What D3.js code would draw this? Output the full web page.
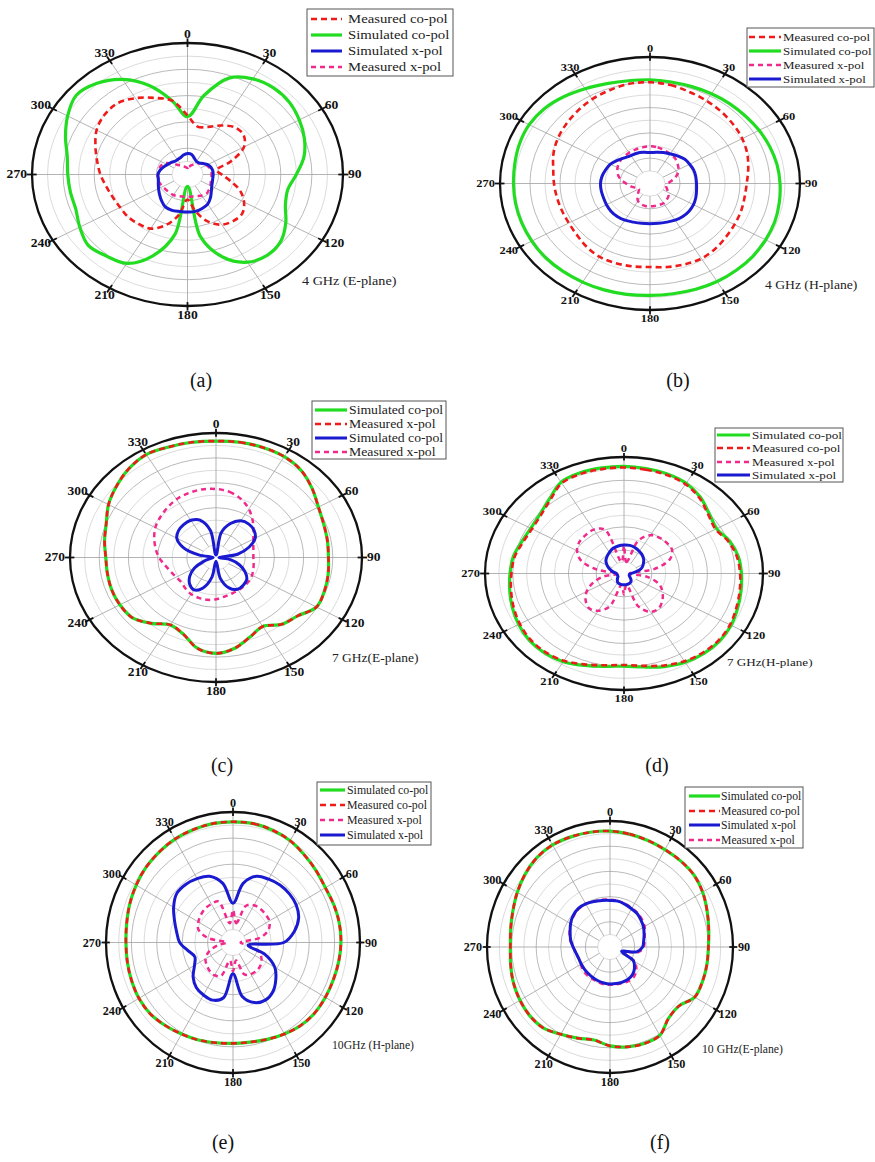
<!DOCTYPE html>
<html>
<head>
<meta charset="utf-8">
<script src="https://cdn.jsdelivr.net/npm/d3@7"></script>
<style>
  body { margin: 0; background: #fff; }
  svg { display: block; }
</style>
</head>
<body>
<svg id="fig" width="875" height="1162"></svg>
<script>
// ---- Data: normalized radius (0 = centre, 1 = outer ring), one value per angle
const angles = [0, 10, 20, 30, 40, 50, 60, 70, 80, 90, 100, 110, 120, 130, 140, 150, 160, 170,
                180, 190, 200, 210, 220, 230, 240, 250, 260, 270, 280, 290, 300, 310, 320, 330, 340, 350];
const tickAngles = [0, 30, 60, 90, 120, 150, 180, 210, 240, 270, 300, 330];
const ringLevels = [0.1, 0.2, 0.3, 0.4, 0.5, 0.6, 0.7, 0.8, 0.9];

// (a) 4 GHz E-plane
const simCoA  = [0.44,0.61,0.78,0.84,0.86,0.855,0.83,0.80,0.76,0.70,0.655,0.67,0.73,0.785,0.80,0.77,0.67,0.48,0.09,0.46,0.66,0.78,0.81,0.835,0.80,0.765,0.765,0.77,0.785,0.835,0.89,0.935,0.905,0.835,0.72,0.57];
const measCoA = [0.45,0.37,0.385,0.43,0.47,0.47,0.42,0.30,0.19,0.22,0.28,0.36,0.42,0.46,0.46,0.44,0.38,0.28,0.19,0.31,0.41,0.475,0.49,0.50,0.50,0.51,0.53,0.56,0.59,0.63,0.675,0.70,0.705,0.67,0.62,0.57];
const simXA   = [0.16,0.155,0.13,0.115,0.115,0.13,0.15,0.16,0.165,0.165,0.165,0.17,0.18,0.20,0.23,0.26,0.275,0.285,0.285,0.285,0.29,0.285,0.26,0.235,0.215,0.20,0.19,0.19,0.18,0.165,0.15,0.14,0.13,0.13,0.135,0.15];
const measXA  = [0.05,0.06,0.075,0.09,0.11,0.13,0.14,0.15,0.155,0.155,0.155,0.16,0.17,0.18,0.19,0.185,0.175,0.17,0.17,0.17,0.175,0.18,0.18,0.18,0.185,0.19,0.195,0.19,0.185,0.185,0.17,0.13,0.095,0.08,0.065,0.055];

// (b) 4 GHz H-plane
const simCoB  = [0.82,0.815,0.815,0.82,0.825,0.83,0.84,0.85,0.86,0.867,0.875,0.885,0.89,0.895,0.895,0.895,0.89,0.885,0.885,0.89,0.895,0.90,0.905,0.91,0.91,0.91,0.91,0.91,0.915,0.925,0.93,0.92,0.895,0.865,0.84,0.825];
const measCoB = [0.80,0.79,0.77,0.755,0.74,0.725,0.71,0.69,0.665,0.645,0.64,0.645,0.65,0.66,0.675,0.685,0.68,0.67,0.66,0.665,0.67,0.67,0.655,0.635,0.625,0.625,0.63,0.64,0.655,0.685,0.71,0.73,0.75,0.77,0.785,0.80];
const measXB  = [0.295,0.29,0.28,0.27,0.26,0.24,0.22,0.19,0.15,0.12,0.11,0.12,0.14,0.16,0.17,0.18,0.18,0.18,0.18,0.18,0.175,0.16,0.13,0.10,0.085,0.10,0.13,0.16,0.20,0.23,0.25,0.265,0.275,0.28,0.285,0.29];
const simXB   = [0.245,0.25,0.26,0.27,0.285,0.30,0.305,0.31,0.31,0.31,0.315,0.325,0.335,0.34,0.34,0.335,0.325,0.32,0.318,0.32,0.325,0.335,0.34,0.34,0.335,0.33,0.33,0.33,0.325,0.315,0.305,0.285,0.265,0.255,0.255,0.25];

// (c) 7 GHz E-plane
const simCoC  = [0.935,0.94,0.94,0.935,0.91,0.86,0.81,0.785,0.775,0.77,0.78,0.79,0.795,0.73,0.70,0.64,0.68,0.74,0.77,0.74,0.655,0.625,0.69,0.75,0.76,0.76,0.755,0.755,0.775,0.80,0.85,0.89,0.93,0.955,0.945,0.94];
const measCoC = [0.935,0.94,0.94,0.935,0.91,0.86,0.81,0.785,0.775,0.77,0.78,0.79,0.795,0.73,0.70,0.64,0.68,0.74,0.77,0.74,0.655,0.625,0.69,0.75,0.76,0.76,0.755,0.755,0.775,0.80,0.85,0.89,0.93,0.955,0.945,0.94];
const simXC   = [0.02,0.20,0.29,0.34,0.35,0.34,0.31,0.24,0.15,0.02,0.10,0.17,0.23,0.275,0.29,0.295,0.26,0.17,0.03,0.16,0.26,0.30,0.28,0.235,0.17,0.09,0.03,0.02,0.12,0.24,0.31,0.335,0.345,0.345,0.32,0.22];
const measXC  = [0.55,0.535,0.50,0.45,0.39,0.335,0.295,0.272,0.26,0.256,0.262,0.272,0.285,0.295,0.30,0.305,0.31,0.32,0.335,0.345,0.345,0.34,0.325,0.31,0.315,0.33,0.355,0.39,0.42,0.45,0.48,0.50,0.52,0.54,0.55,0.555];

// (d) 7 GHz H-plane
const simCoD  = [0.92,0.915,0.91,0.895,0.855,0.80,0.77,0.81,0.835,0.845,0.855,0.87,0.89,0.90,0.895,0.88,0.85,0.815,0.795,0.81,0.84,0.875,0.89,0.89,0.875,0.855,0.835,0.82,0.81,0.785,0.775,0.79,0.835,0.905,0.92,0.92];
const measCoD = [0.91,0.905,0.90,0.885,0.845,0.79,0.76,0.80,0.825,0.835,0.845,0.86,0.88,0.89,0.885,0.87,0.84,0.805,0.785,0.80,0.83,0.865,0.88,0.88,0.865,0.845,0.825,0.81,0.80,0.775,0.765,0.78,0.825,0.895,0.91,0.91];
const measXD  = [0.24,0.10,0.30,0.38,0.40,0.405,0.40,0.35,0.22,0.04,0.17,0.27,0.32,0.36,0.39,0.38,0.30,0.10,0.18,0.10,0.30,0.37,0.39,0.36,0.31,0.24,0.15,0.04,0.20,0.33,0.39,0.42,0.43,0.435,0.40,0.10];
const simXD   = [0.245,0.245,0.235,0.22,0.205,0.185,0.16,0.135,0.09,0.05,0.04,0.04,0.045,0.06,0.08,0.09,0.095,0.097,0.097,0.097,0.095,0.09,0.075,0.06,0.05,0.05,0.05,0.055,0.08,0.11,0.14,0.17,0.19,0.21,0.23,0.24];

// (e) 10 GHz H-plane
const simCoE  = [0.925,0.925,0.915,0.90,0.875,0.855,0.84,0.845,0.85,0.85,0.845,0.84,0.84,0.84,0.83,0.81,0.79,0.775,0.773,0.78,0.795,0.81,0.83,0.85,0.855,0.85,0.845,0.843,0.85,0.865,0.88,0.895,0.905,0.915,0.92,0.925];
const measCoE = [0.925,0.925,0.915,0.90,0.875,0.855,0.84,0.845,0.85,0.85,0.845,0.84,0.84,0.84,0.83,0.81,0.79,0.775,0.773,0.78,0.795,0.81,0.83,0.85,0.855,0.85,0.845,0.843,0.85,0.865,0.88,0.895,0.905,0.915,0.92,0.925];
const measXE  = [0.25,0.15,0.30,0.33,0.335,0.335,0.33,0.30,0.22,0.06,0.12,0.22,0.26,0.28,0.285,0.28,0.26,0.14,0.22,0.14,0.27,0.29,0.285,0.27,0.25,0.20,0.12,0.05,0.20,0.29,0.315,0.33,0.34,0.34,0.335,0.15];
const simXE   = [0.30,0.46,0.54,0.56,0.575,0.58,0.575,0.55,0.49,0.40,0.12,0.27,0.38,0.44,0.49,0.51,0.49,0.42,0.24,0.43,0.47,0.465,0.45,0.41,0.35,0.32,0.36,0.42,0.45,0.49,0.54,0.58,0.58,0.565,0.54,0.46];

// (f) 10 GHz E-plane
const simCoF  = [0.92,0.91,0.90,0.893,0.892,0.89,0.87,0.84,0.815,0.80,0.80,0.80,0.795,0.73,0.74,0.81,0.815,0.805,0.785,0.75,0.77,0.80,0.84,0.85,0.845,0.835,0.82,0.81,0.82,0.84,0.87,0.90,0.925,0.935,0.93,0.925];
const measCoF = [0.92,0.91,0.90,0.893,0.892,0.89,0.87,0.84,0.815,0.80,0.80,0.80,0.795,0.73,0.74,0.81,0.815,0.805,0.785,0.75,0.77,0.80,0.84,0.85,0.845,0.835,0.82,0.81,0.82,0.84,0.87,0.90,0.925,0.935,0.93,0.925];
const simXF   = [0.37,0.37,0.36,0.35,0.345,0.33,0.315,0.295,0.278,0.265,0.22,0.10,0.22,0.26,0.285,0.295,0.296,0.295,0.294,0.29,0.285,0.28,0.275,0.272,0.27,0.27,0.28,0.30,0.325,0.345,0.37,0.39,0.40,0.395,0.385,0.375];
const measXF  = [0.375,0.37,0.365,0.355,0.35,0.34,0.325,0.30,0.285,0.275,0.235,0.12,0.23,0.28,0.305,0.31,0.305,0.30,0.30,0.30,0.295,0.29,0.29,0.285,0.275,0.27,0.28,0.30,0.33,0.35,0.37,0.385,0.395,0.395,0.385,0.38];

// ---- Estilos das curvas
const styles = {
    green: { color: '#22dc22', width: 3.2, dash: null },
    red:   { color: '#ef1a1a', width: 2.6, dash: '6,4' },
    blue:  { color: '#1a1ad0', width: 3,   dash: null },
    pink:  { color: '#f02a8c', width: 2.5, dash: '5,4' }
};

// ---- Layout of the six panels
const panels = [
    { cx: 187.5, cy: 174.5, rx: 155.5, ry: 131.5, tick: 11.5,
      curves: [[simCoA, 'green'], [measCoA, 'red'], [measXA, 'pink'], [simXA, 'blue']],
      legend: { x: 307, y: 9, w: 146, h: 67, rows: [19, 35, 51, 67], line: [311, 342], tx: 348, size: 12.5,
                items: [['Measured co-pol', 'red'], ['Simulated co-pol', 'green'], ['Simulated x-pol', 'blue'], ['Measured x-pol', 'pink']] },
      note: '4 GHz (E-plane)', noteX: 302, noteY: 285, noteSize: 12, cap: '(a)', capX: 201, capY: 387 },
    { cx: 650, cy: 183.5, rx: 150, ry: 126.5, tick: 10.5,
      curves: [[simCoB, 'green'], [measCoB, 'red'], [measXB, 'pink'], [simXB, 'blue']],
      legend: { x: 747, y: 28, w: 127, h: 59, rows: [37, 51, 65, 79], line: [749, 781], tx: 783, size: 10.9,
                items: [['Measured co-pol', 'red'], ['Simulated co-pol', 'green'], ['Measured x-pol', 'pink'], ['Simulated x-pol', 'blue']] },
      note: '4 GHz (H-plane)', noteX: 765, noteY: 289, noteSize: 11.5, cap: '(b)', capX: 678, capY: 387 },
    { cx: 216, cy: 557.5, rx: 146, ry: 124.5, tick: 11.5,
      curves: [[simCoC, 'green'], [measCoC, 'red'], [measXC, 'pink'], [simXC, 'blue']],
      legend: { x: 312, y: 401, w: 134, h: 58, rows: [410, 424, 438, 452], line: [315, 347], tx: 349, size: 11.7,
                items: [['Simulated co-pol', 'green'], ['Measured x-pol', 'red'], ['Simulated co-pol', 'blue'], ['Measured x-pol', 'pink']] },
      note: '7 GHz(E-plane)', noteX: 332, noteY: 662, noteSize: 11.5, cap: '(c)', capX: 222, capY: 772 },
    { cx: 624, cy: 573.5, rx: 139, ry: 116.5, tick: 10.5,
      curves: [[simCoD, 'green'], [measCoD, 'red'], [measXD, 'pink'], [simXD, 'blue']],
      legend: { x: 715, y: 428, w: 128, h: 54, rows: [435, 448, 462, 475], line: [717, 750], tx: 752, size: 11,
                items: [['Simulated co-pol', 'green'], ['Measured co-pol', 'red'], ['Measured x-pol', 'pink'], ['Simulated x-pol', 'blue']] },
      note: '7 GHz(H-plane)', noteX: 727, noteY: 666, noteSize: 11, cap: '(d)', capX: 657, capY: 772 },
    { cx: 233, cy: 942.5, rx: 127, ry: 130.5, tick: 12.5,
      curves: [[simCoE, 'green'], [measCoE, 'red'], [measXE, 'pink'], [simXE, 'blue']],
      legend: { x: 317, y: 782, w: 114, h: 63, rows: [790, 805, 820, 835], line: [320, 345], tx: 347, size: 12.2,
                items: [['Simulated co-pol', 'green'], ['Measured co-pol', 'red'], ['Measured x-pol', 'pink'], ['Simulated x-pol', 'blue']] },
      note: '10GHz (H-plane)', noteX: 332, noteY: 1049, noteSize: 12, cap: '(e)', capX: 223, capY: 1149 },
    { cx: 610, cy: 947, rx: 123, ry: 126, tick: 12.5,
      curves: [[simCoF, 'green'], [measCoF, 'red'], [measXF, 'pink'], [simXF, 'blue']],
      legend: { x: 685, y: 787, w: 118, h: 61, rows: [796, 811, 825, 840], line: [689, 720], tx: 721, size: 12,
                items: [['Simulated co-pol', 'green'], ['Measured co-pol', 'red'], ['Simulated x-pol', 'blue'], ['Measured x-pol', 'pink']] },
      note: '10 GHz(E-plane)', noteX: 702, noteY: 1053, noteSize: 12, cap: '(f)', capX: 660, capY: 1149 }
];

const svg = d3.select('#fig');
const serif = '"Liberation Serif", "Times New Roman", Times, serif';
const ang = d3.scaleLinear().domain([0, 360]).range([0, 2 * Math.PI]);

svg.append('rect').attr('width', 875).attr('height', 1162).attr('fill', '#fff');

function drawPanel(p) {
    const sx = p.rx / p.ry;   // the figure is stretched horizontally
    const rX = d3.scaleLinear().domain([0, 1]).range([0, p.rx]);
    const rY = d3.scaleLinear().domain([0, 1]).range([0, p.ry]);
    const px = (v, a) => p.cx + rX(v) * Math.sin(ang(a));
    const py = (v, a) => p.cy - rY(v) * Math.cos(ang(a));

    const g = svg.append('g');

    // ---- Grade
    g.selectAll('ellipse.ring')
        .data(ringLevels)
        .join('ellipse')
        .attr('class', 'ring')
        .attr('cx', p.cx).attr('cy', p.cy)
        .attr('rx', d => rX(d)).attr('ry', d => rY(d))
        .attr('fill', 'none')
        .attr('stroke', (d, i) => i % 2 ? '#a8a8a8' : '#d2d2d2')
        .attr('stroke-width', 0.8);

    g.selectAll('line.spoke')
        .data(tickAngles)
        .join('line')
        .attr('class', 'spoke')
        .attr('x1', d => px(0.1, d)).attr('y1', d => py(0.1, d))
        .attr('x2', d => px(1, d)).attr('y2', d => py(1, d))
        .attr('stroke', '#a0a0a0')
        .attr('stroke-width', 0.8);

    g.append('ellipse')
        .attr('cx', p.cx).attr('cy', p.cy)
        .attr('rx', rX(1)).attr('ry', rY(1))
        .attr('fill', 'none')
        .attr('stroke', '#111')
        .attr('stroke-width', 2.3);

    g.selectAll('line.tick')
        .data(tickAngles)
        .join('line')
        .attr('class', 'tick')
        .attr('x1', d => px(0.97, d)).attr('y1', d => py(0.97, d))
        .attr('x2', d => px(1.035, d)).attr('y2', d => py(1.035, d))
        .attr('stroke', '#111')
        .attr('stroke-width', 1.8);

    // ---- Rótulos dos ângulos
    g.selectAll('text.ang')
        .data(tickAngles)
        .join('text')
        .attr('class', 'ang')
        .attr('transform', d => {
            const a = ang(d);
            const w = String(d).length * p.tick * 0.5 * sx;
            const h = p.tick * 0.7;
            const x = p.cx + (p.rx + 5 + Math.abs(Math.sin(a)) * w / 2) * Math.sin(a);
            const y = p.cy - (p.ry + 5 + Math.abs(Math.cos(a)) * h / 2) * Math.cos(a);
            return `translate(${x},${y}) scale(${sx},1)`;
        })
        .attr('text-anchor', 'middle')
        .attr('dominant-baseline', 'central')
        .style('font-family', serif)
        .style('font-weight', 'bold')
        .style('font-size', p.tick + 'px')
        .style('fill', '#111')
        .text(d => d);

    // ---- Curvas
    const line = d3.line()
        .x((v, i) => px(v, angles[i]))
        .y((v, i) => py(v, angles[i]))
        .curve(d3.curveCatmullRomClosed.alpha(0.5));

    p.curves.forEach(([vals, key]) => {
        const s = styles[key];
        g.append('path')
            .attr('d', line(vals))
            .attr('fill', 'none')
            .attr('stroke', s.color)
            .attr('stroke-width', s.width)
            .attr('stroke-dasharray', s.dash)
            .attr('stroke-linejoin', 'round');
    });

    // ---- Legenda
    const L = p.legend;
    const lg = g.append('g');
    lg.append('rect')
        .attr('x', L.x).attr('y', L.y).attr('width', L.w).attr('height', L.h)
        .attr('fill', '#fff').attr('stroke', '#555').attr('stroke-width', 1);

    L.items.forEach(([label, key], i) => {
        const s = styles[key];
        lg.append('line')
            .attr('x1', L.line[0]).attr('x2', L.line[1])
            .attr('y1', L.rows[i]).attr('y2', L.rows[i])
            .attr('stroke', s.color)
            .attr('stroke-width', s.width)
            .attr('stroke-dasharray', s.dash);
        lg.append('text')
            .attr('transform', `translate(${L.tx},${L.rows[i]}) scale(${sx},1)`)
            .attr('dominant-baseline', 'central')
            .style('font-family', serif)
            .style('font-size', L.size + 'px')
            .style('fill', '#222')
            .text(label);
    });

    // ---- Frequency note and caption
    g.append('text')
        .attr('transform', `translate(${p.noteX},${p.noteY}) scale(${sx},1)`)
        .style('font-family', serif)
        .style('font-size', p.noteSize + 'px')
        .style('fill', '#222')
        .text(p.note);

    g.append('text')
        .attr('x', p.capX).attr('y', p.capY)
        .attr('text-anchor', 'middle')
        .style('font-family', serif)
        .style('font-size', '20px')
        .style('fill', '#111')
        .text(p.cap);
}

panels.forEach(drawPanel);
</script>
</body>
</html>
